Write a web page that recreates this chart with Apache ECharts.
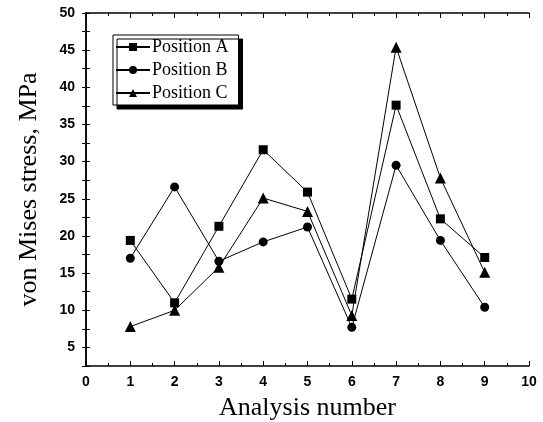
<!DOCTYPE html>
<html>
<head>
<meta charset="utf-8">
<script src="https://cdn.jsdelivr.net/npm/echarts@6/dist/echarts.min.js"></script>
<style>
  html, body { margin: 0; padding: 0; background: #fff; }
  #main { width: 543px; height: 422px; }
</style>
</head>
<body>
<div id="main"></div>
<script>
// analysis runs and stress values (MPa)
var runs = [1, 2, 3, 4, 5, 6, 7, 8, 9];
var positionA = [19.4, 11.0, 21.3, 31.6, 25.9, 11.5, 37.6, 22.3, 17.1];
var positionB = [17.0, 26.6, 16.6, 19.2, 21.2, 7.7, 29.5, 19.4, 10.4];
var positionC = [7.8, 10.0, 15.8, 25.1, 23.3, 9.3, 45.4, 27.8, 15.1];

function pairs(vals) {
  return runs.map(function (r, i) { return [r, vals[i]]; });
}

var myChart = echarts.init(document.getElementById('main'));

var tickFont = { fontFamily: 'Liberation Sans', fontSize: 14, fontWeight: 'bold', color: '#000' };
var titleFont = { fontFamily: 'Liberation Serif', fontSize: 26, color: '#000' };

function lineSeries(name, vals, symbol, size) {
  return {
    name: name,
    type: 'line',
    data: pairs(vals),
    symbol: symbol,
    symbolSize: size,
    showSymbol: true,
    lineStyle: { color: '#000', width: 1 },
    itemStyle: { color: '#000' },
    animation: false
  };
}

var option = {
  animation: false,
  grid: { left: 86, right: 14, top: 13, bottom: 56, outerBoundsMode: 'none', containLabel: false },
  legend: {
    orient: 'vertical',
    left: 113,
    top: 35,
    padding: [3, 10, 3, 2],
    itemGap: 5,
    itemWidth: 34,
    itemHeight: 10,
    backgroundColor: '#fff',
    borderColor: '#000',
    borderWidth: 1,
    shadowColor: '#000',
    shadowBlur: 0,
    shadowOffsetX: 4,
    shadowOffsetY: 4,
    textStyle: { fontFamily: 'Liberation Serif', fontSize: 18, color: '#000', padding: [0, 0, 0, -3] },
    data: ['Position A', 'Position B', 'Position C']
  },
  xAxis: [{
    type: 'value',
    min: 0, max: 10, interval: 1,
    name: 'Analysis number',
    nameLocation: 'middle',
    nameGap: 29,
    nameTextStyle: titleFont,
    axisLine: { show: true, lineStyle: { color: '#000', width: 1.5 } },
    axisTick: { show: true, inside: true, length: 5, lineStyle: { color: '#000' } },
    minorTick: { show: true, splitNumber: 2, length: 3, lineStyle: { color: '#000' } },
    axisLabel: Object.assign({ margin: 9 }, tickFont),
    splitLine: { show: false }
  }, {
    type: 'value',
    position: 'top',
    min: 0, max: 10, interval: 1,
    axisLine: { show: true, lineStyle: { color: '#000', width: 1.5 } },
    axisTick: { show: true, inside: true, length: 5, lineStyle: { color: '#000' } },
    minorTick: { show: true, splitNumber: 2, length: 3, lineStyle: { color: '#000' } },
    axisLabel: { show: false },
    splitLine: { show: false }
  }],
  yAxis: [{
    type: 'value',
    min: 2.5, max: 50, interval: 2.5,
    name: 'von Mises stress, MPa',
    nameLocation: 'middle',
    nameGap: 44,
    nameTextStyle: titleFont,
    axisLine: { show: true, lineStyle: { color: '#000', width: 1.5 } },
    axisTick: { show: true, inside: true, length: 4, lineStyle: { color: '#000' } },
    axisLabel: Object.assign({
      margin: 11,
      formatter: function (v) { return v % 5 === 0 ? String(v) : ''; }
    }, tickFont),
    splitLine: { show: false }
  }, {
    type: 'value',
    position: 'right',
    min: 2.5, max: 50, interval: 2.5,
    axisLine: { show: true, lineStyle: { color: '#000', width: 1.5 } },
    axisTick: { show: true, inside: true, length: 4, lineStyle: { color: '#000' } },
    axisLabel: { show: false },
    splitLine: { show: false }
  }],
  series: [
    lineSeries('Position A', positionA, 'rect', 9),
    lineSeries('Position B', positionB, 'circle', 9),
    lineSeries('Position C', positionC, 'triangle', 11)
  ]
};

myChart.setOption(option);
</script>
</body>
</html>
